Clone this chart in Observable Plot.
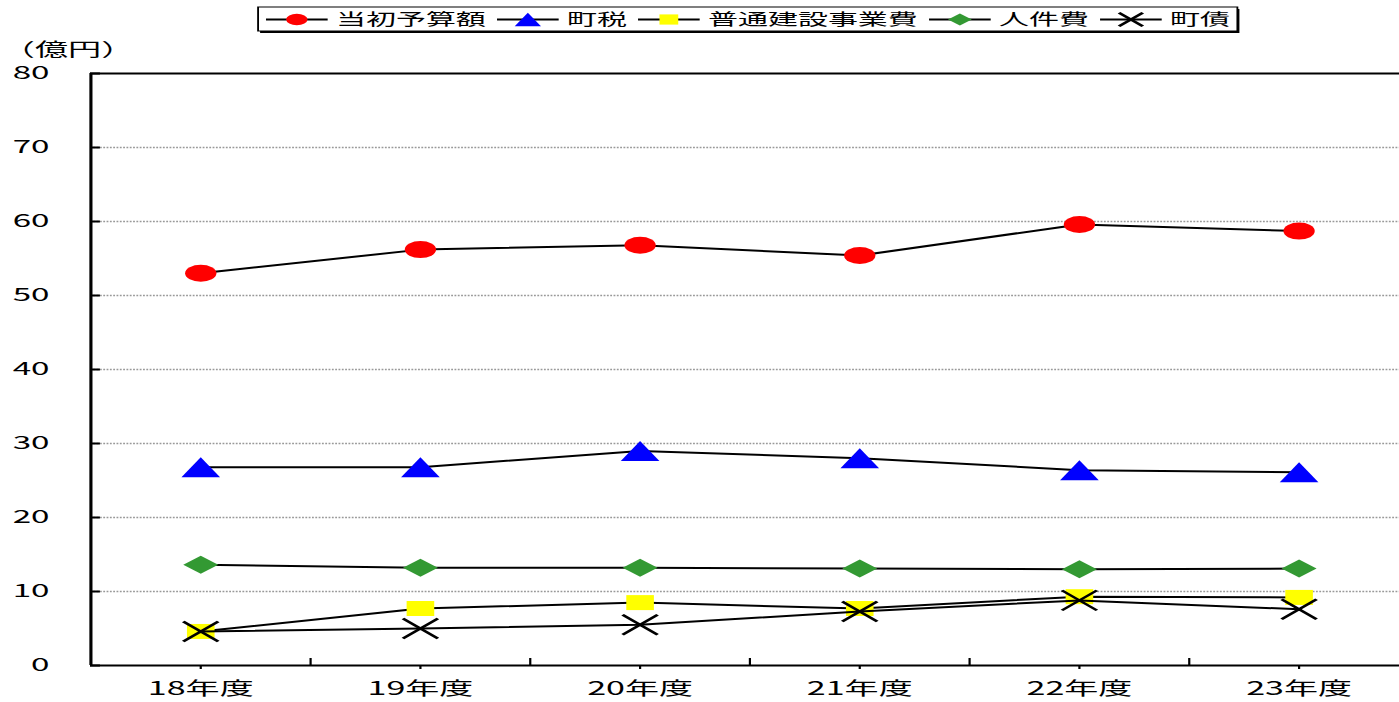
<!DOCTYPE html>
<html>
<head>
<meta charset="utf-8">
<script src="https://cdn.jsdelivr.net/npm/d3@7"></script>
<script src="https://cdn.jsdelivr.net/npm/@observablehq/plot@0.6"></script>
<style>
  html, body { margin: 0; padding: 0; background: white; }
  svg { display: block; }
</style>
</head>
<body>
<div id="legend"></div>
<div id="chart"></div>
<script>
// ---- data ----
const years = ["18年度", "19年度", "20年度", "21年度", "22年度", "23年度"];
const seriesNames = ["当初予算額", "町税", "普通建設事業費", "人件費", "町債"];
const budget       = [53.0, 56.2, 56.8, 55.4, 59.6, 58.7];
const tax          = [26.8, 26.8, 29.0, 28.0, 26.4, 26.1];
const construction = [4.6, 7.7, 8.5, 7.7, 9.3, 9.2];
const personnel    = [13.6, 13.2, 13.2, 13.1, 13.0, 13.1];
const bonds        = [4.6, 5.0, 5.5, 7.3, 8.8, 7.6];
const yTicks = [0, 10, 20, 30, 40, 50, 60, 70, 80];
const gridTicks = [10, 20, 30, 40, 50, 60, 70];
const yLabel = "（億円）";

const seriesValues = [budget, tax, construction, personnel, bonds];
const fills = ["#ff0000", "#0000ff", "#ffff00", "#339933", "none"];
const kinds = ["circle", "triangle", "square", "diamond", "cross"];

// ---- layout (drawn narrow, stretched horizontally like the original) ----
const OUT_W = 1399;
const W = 760;
const s = OUT_W / W;
const FONT = "'Noto Sans CJK JP', 'Noto Sans', sans-serif";

function makeSymbol(kind, k) {
  return {
    draw(ctx) {
      if (kind === "circle") {
        const r = 8.5 * k;
        ctx.moveTo(r, 0);
        ctx.arc(0, 0, r, 0, 2 * Math.PI);
      } else if (kind === "triangle") {
        ctx.moveTo(0, -10 * k); ctx.lineTo(10.5 * k, 10 * k); ctx.lineTo(-10.5 * k, 10 * k); ctx.closePath();
      } else if (kind === "square") {
        ctx.moveTo(-7.5 * k, -7.5 * k); ctx.lineTo(7.5 * k, -7.5 * k); ctx.lineTo(7.5 * k, 7.5 * k); ctx.lineTo(-7.5 * k, 7.5 * k); ctx.closePath();
      } else if (kind === "diamond") {
        ctx.moveTo(0, -9 * k); ctx.lineTo(9.5 * k, 0); ctx.lineTo(0, 9 * k); ctx.lineTo(-9.5 * k, 0); ctx.closePath();
      } else {
        ctx.moveTo(-9.5 * k, -10 * k); ctx.lineTo(9.5 * k, 10 * k);
        ctx.moveTo(9.5 * k, -10 * k); ctx.lineTo(-9.5 * k, 10 * k);
      }
    }
  };
}

function stretch(svg, h) {
  svg.setAttribute("viewBox", `0 0 ${W} ${h}`);
  svg.setAttribute("preserveAspectRatio", "none");
  svg.setAttribute("width", OUT_W);
  svg.setAttribute("height", h);
  svg.style.width = OUT_W + "px";
  svg.style.height = h + "px";
  svg.style.maxWidth = "none";
  return svg;
}

// ---- legend ----
const LEG_H = 40;
const legY = 19;
const legFont = 16.3;
let cursor = 144;
const legendItems = seriesNames.map((name, k) => {
  const item = {name, k, x0: cursor, x1: cursor + 33.5, cx: cursor + 16.75, tx: cursor + 38};
  cursor = item.tx + name.length * legFont + 6;
  return item;
});
const box = [{x1: 140.2, x2: cursor - 1.5, y1: 7, y2: 31}];

const legend = Plot.plot({
  width: W, height: LEG_H, margin: 0,
  x: {type: "identity"}, y: {type: "identity"},
  style: {fontFamily: FONT, fontSize: legFont + "px", background: "white", color: "black"},
  marks: [
    Plot.rect(box, {x1: "x1", x2: "x2", y1: "y1", y2: "y2", fill: "black", dx: 1.1, dy: 2}),
    Plot.rect(box, {x1: "x1", x2: "x2", y1: "y1", y2: "y2", fill: "white", stroke: "black", strokeWidth: 1}),
    Plot.link(legendItems, {x1: "x0", x2: "x1", y1: () => legY, y2: () => legY, stroke: "black", strokeWidth: 2}),
    ...legendItems.map(d => Plot.dot([d], {
      x: "cx", y: () => legY, r: 5,
      symbol: makeSymbol(kinds[d.k], 0.68),
      fill: fills[d.k],
      stroke: kinds[d.k] === "cross" ? "black" : "none",
      strokeWidth: 2
    })),
    Plot.text(legendItems, {x: "tx", y: () => legY, text: "name", textAnchor: "start", fill: "black", fontSize: legFont})
  ]
});
document.getElementById("legend").appendChild(stretch(legend, LEG_H));

// ---- chart ----
const CH_H = 702 - LEG_H;
const seriesMarks = seriesValues.flatMap((vals, k) => {
  const pts = vals.map((v, i) => ({x: i + 0.5, y: v}));
  return [
    Plot.line(pts, {x: "x", y: "y", stroke: "black", strokeWidth: 2}),
    Plot.dot(pts, {
      x: "x", y: "y", r: 5,
      symbol: makeSymbol(kinds[k], 1),
      fill: fills[k],
      stroke: kinds[k] === "cross" ? "black" : "none",
      strokeWidth: 2
    })
  ];
});

const chart = Plot.plot({
  width: W, height: CH_H,
  marginLeft: 90 / s, marginRight: 0, marginTop: 33, marginBottom: 37,
  x: {domain: [0, years.length], range: [90 / s, 1408 / s]},
  y: {domain: [0, 80]},
  style: {fontFamily: FONT, fontSize: "18px", background: "white", color: "black"},
  marks: [
    Plot.ruleY(gridTicks, {stroke: "#999", strokeWidth: 1.5, strokeDasharray: "1,0.8"}),
    Plot.ruleY([80], {stroke: "black", strokeWidth: 2}),
    Plot.ruleY([0], {stroke: "black", strokeWidth: 2}),
    Plot.ruleX([0], {stroke: "black", strokeWidth: 1.7}),
    Plot.axisY({ticks: yTicks, tickSize: 5.4, dx: 5.4, tickPadding: 22.5, strokeWidth: 2, label: null, fontSize: 18}),
    Plot.axisX({ticks: years.map((_, i) => i + 0.5), tickFormat: v => years[Math.round(v - 0.5)],
      tickSize: 4, tickPadding: 12, strokeWidth: 1.2, label: null, fontSize: 18.5}),
    Plot.axisX({ticks: d3.range(1, years.length), tickFormat: () => "", tickSize: 7, dy: -7,
      strokeWidth: 1.2, label: null}),
    Plot.text([yLabel], {x: 0, y: 80, text: d => d, dx: 0.5 - 90 / s, dy: 10 - 33,
      textAnchor: "start", fontSize: 18}),
    ...seriesMarks
  ]
});
document.getElementById("chart").appendChild(stretch(chart, CH_H));
</script>
</body>
</html>
